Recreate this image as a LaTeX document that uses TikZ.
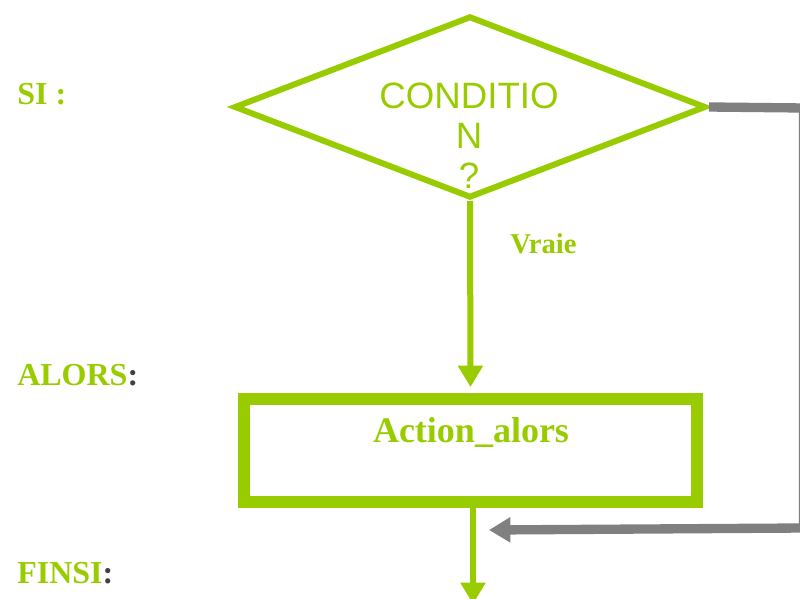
\documentclass[tikz,border=0pt]{standalone}
\usepackage{fontspec}
\setmainfont{Liberation Serif}
\setsansfont{Liberation Sans}
\usetikzlibrary{shapes.geometric,arrows.meta}
\definecolor{grn}{HTML}{99CC00}
\definecolor{gry}{HTML}{808080}
\definecolor{dgry}{HTML}{404040}
\begin{document}
\begin{tikzpicture}[x=0.75pt,y=-0.75pt,
  kw/.style={font=\bfseries\fontsize{24}{28}\selectfont, text=grn, anchor=base west, inner sep=0},
  flow/.style={draw=grn, line width=4.5pt, -{Triangle[length=16pt,width=18pt]}},
  back/.style={draw=gry, line width=7pt, line join=miter, -{Triangle[length=16pt,width=18pt]}},
  box/.style={draw=grn, line width=9pt, rectangle, inner sep=0}]
  \useasboundingbox (0,0) rectangle (800,599);
  \clip (0,0) rectangle (800,599);

  % keywords on the left
  \node[kw] (si) at (17,105) {SI :};
  \node[kw] (alors) at (17,385) {ALORS\textcolor{dgry}{:}};
  \node[kw] (finsi) at (17,583) {FINSI\textcolor{dgry}{:}};

  % decision
  \node[diamond, draw=grn, line width=4.5pt, minimum width=472*0.75pt,
        minimum height=182*0.75pt, inner sep=0] (cond) at (470,107) {};
  \node[font=\sffamily\fontsize{27.5}{30}\selectfont, text=grn, align=center,
        inner sep=0] (condtxt) at (469,136) {CONDITIO\\N\\?};

  % action
  \node[box, minimum width=453*0.75pt, minimum height=103*0.75pt] (act) at (470.5,450.5) {};
  \node[font=\bfseries\fontsize{27}{30}\selectfont, text=grn, anchor=base,
        inner sep=0] (acttxt) at (471,442) {Action\_alors};

  % true branch
  \draw[flow, shorten >=4.5pt] (cond.south) -- (act.north);
  \node[font=\bfseries\fontsize{21.5}{24}\selectfont, text=grn, anchor=base west,
        inner sep=0] (vraie) at (510,253) {Vraie};

  % exit
  \coordinate (out) at (473,604);
  \draw[flow] (act.south -| out) -- (out);

  % false branch
  \coordinate (c1) at (803.5,108);
  \coordinate (c2) at (803.5,528);
  \coordinate (join) at (489,530);
  \draw[back] (cond.east) -- (c1) -- (c2) -- (join);
\end{tikzpicture}
\end{document}
